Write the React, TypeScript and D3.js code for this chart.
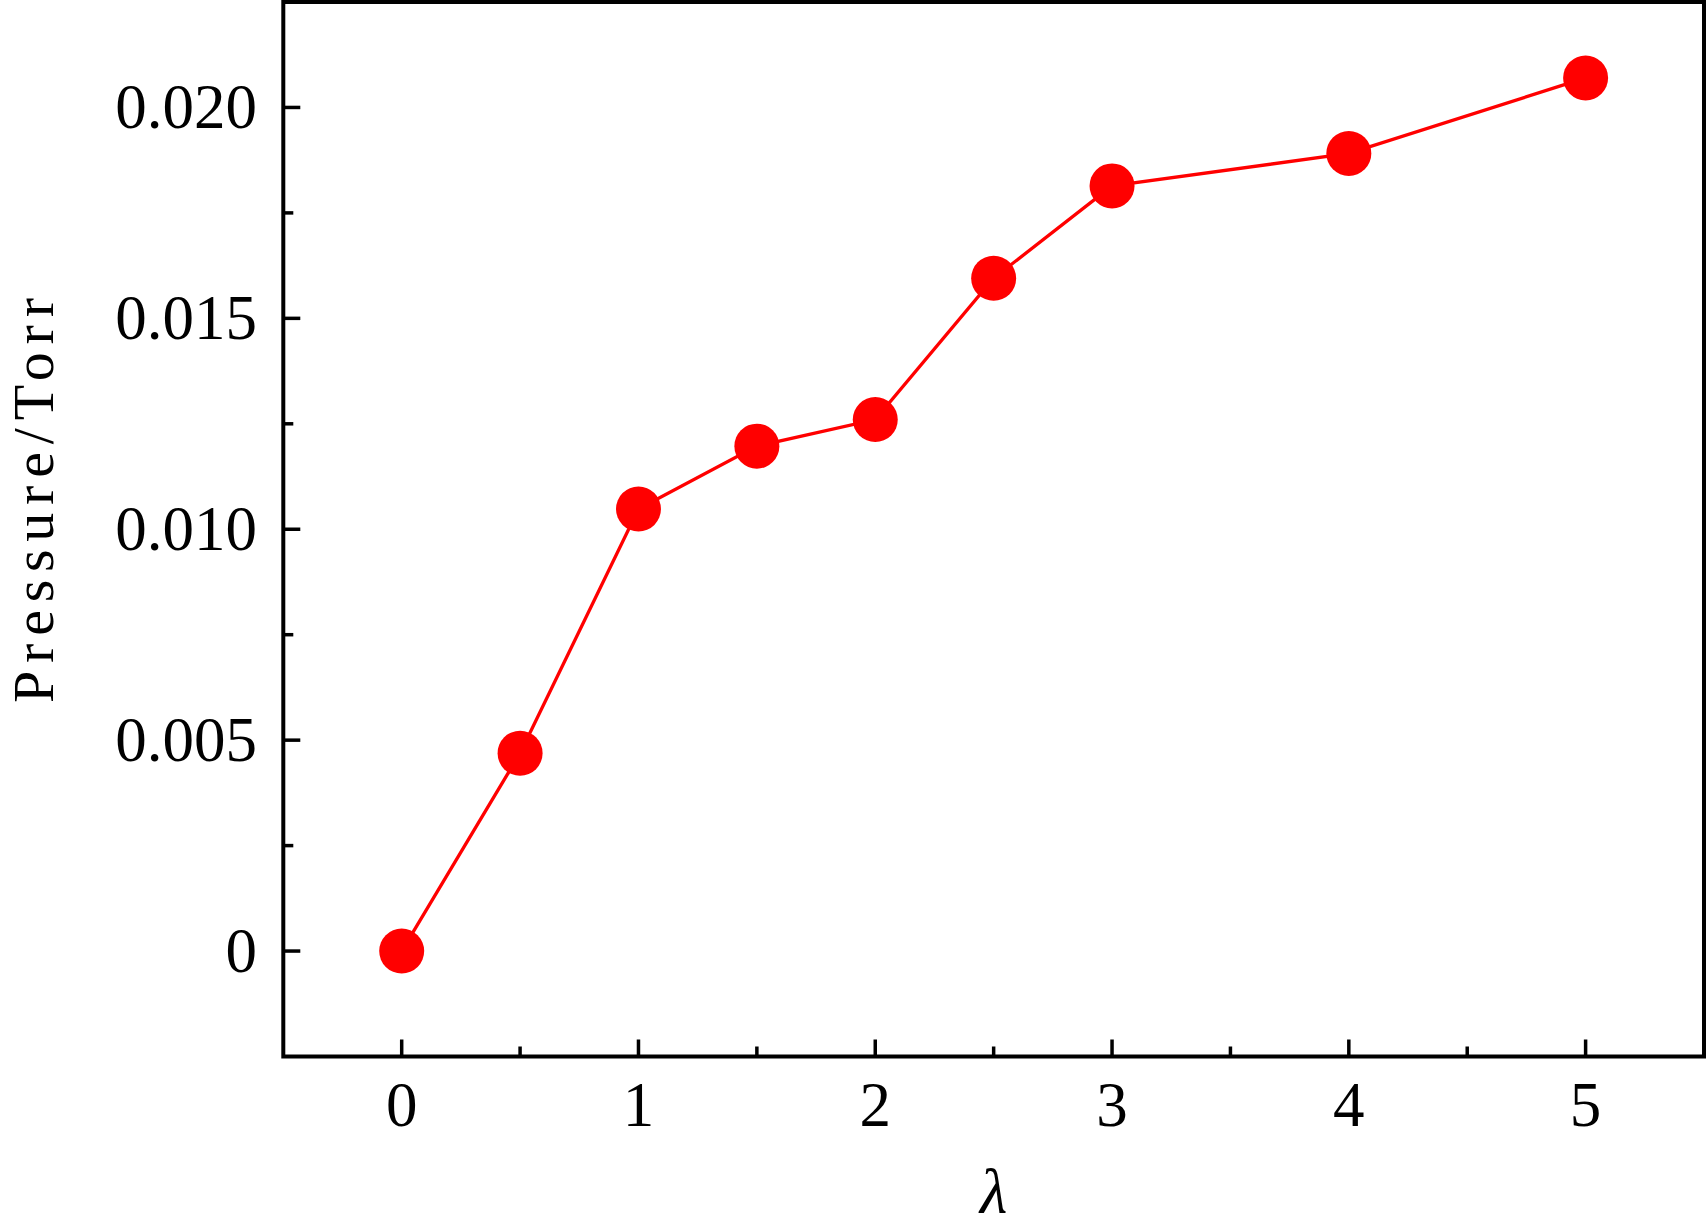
import React from "react";
import * as d3 from "d3";

const lambdas = [0, 0.5, 1, 1.5, 2, 2.5, 3, 4, 5];
const pressures = [0, 0.00469, 0.01048, 0.01197, 0.0126, 0.01595, 0.01814, 0.01891, 0.0207];
const xMajorTicks = [0, 1, 2, 3, 4, 5];
const xMinorTicks = [0.5, 1.5, 2.5, 3.5, 4.5];
const yMajorTicks = [0, 0.005, 0.01, 0.015, 0.02];
const yTickLabels = ["0", "0.005", "0.010", "0.015", "0.020"];
const yMinorTicks = [0.0025, 0.0075, 0.0125, 0.0175];
const xLabel = "λ";
const yLabel = "Pressure/Torr";

const W = 1707;
const H = 1227;
const left = 283.3;
const right = 1704;
const top = 2;
const bottom = 1056.5;
const FONT = "'Liberation Serif', 'Times New Roman', serif";

export default function App() {
  const x = d3.scaleLinear().domain([-0.5, 5.5]).range([left, right]);
  const y = d3.scaleLinear().domain([-0.0025, 0.0225]).range([bottom, top]);
  const pts = lambdas.map((l, i) => [l, pressures[i]] as [number, number]);
  const line = d3
    .line<[number, number]>()
    .x((d) => x(d[0]))
    .y((d) => y(d[1]));

  const major = 17;
  const minor = 10;
  const tw = 3.5;

  return (
    <svg
      width={W}
      height={H}
      style={{ position: "absolute", left: 0, top: 0, background: "#fff" }}
    >
      <rect x={0} y={0} width={W} height={H} fill="#fff" />
      <path d={line(pts) || ""} fill="none" stroke="#ff0000" strokeWidth={3.3} />
      {pts.map((d, i) => (
        <circle key={i} cx={x(d[0])} cy={y(d[1])} r={22.5} fill="#ff0000" />
      ))}
      {/* x ticks */}
      {xMajorTicks.map((t) => (
        <g key={"xm" + t}>
          <line x1={x(t)} x2={x(t)} y1={bottom} y2={bottom - major} stroke="#000" strokeWidth={tw} />
          <text
            x={x(t)}
            y={1126}
            textAnchor="middle"
            fontFamily={FONT}
            fontSize={63}
            fill="#000"
          >
            {String(t)}
          </text>
        </g>
      ))}
      {xMinorTicks.map((t) => (
        <line key={"xn" + t} x1={x(t)} x2={x(t)} y1={bottom} y2={bottom - minor} stroke="#000" strokeWidth={tw} />
      ))}
      {/* y ticks */}
      {yMajorTicks.map((t, i) => (
        <g key={"ym" + t}>
          <line x1={left} x2={left + major} y1={y(t)} y2={y(t)} stroke="#000" strokeWidth={tw} />
          <text
            x={257}
            y={y(t)}
            dy="0.33em"
            textAnchor="end"
            fontFamily={FONT}
            fontSize={63}
            fill="#000"
          >
            {yTickLabels[i]}
          </text>
        </g>
      ))}
      {yMinorTicks.map((t) => (
        <line key={"yn" + t} x1={left} x2={left + minor} y1={y(t)} y2={y(t)} stroke="#000" strokeWidth={tw} />
      ))}
      {/* frame */}
      <rect
        x={left}
        y={top}
        width={right - left}
        height={bottom - top}
        fill="none"
        stroke="#000"
        strokeWidth={4}
      />
      {/* axis labels */}
      <text
        x={(left + right) / 2}
        y={1213}
        textAnchor="middle"
        fontFamily={FONT}
        fontStyle="italic"
        fontSize={63}
        fill="#000"
      >
        {xLabel}
      </text>
      <text
        transform={`translate(53,500.5) rotate(-90)`}
        textAnchor="middle"
        fontFamily={FONT}
        fontSize={58}
        textLength={405}
        lengthAdjust="spacing"
        fill="#000"
      >
        {yLabel}
      </text>
    </svg>
  );
}
